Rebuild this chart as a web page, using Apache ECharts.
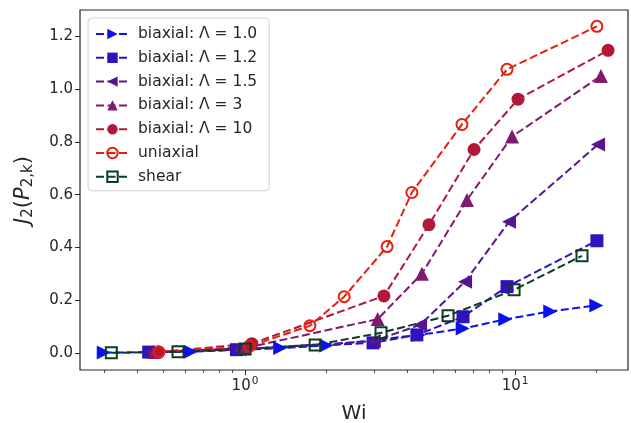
<!DOCTYPE html>
<html>
<head>
<meta charset="utf-8">
<script src="https://cdn.jsdelivr.net/npm/echarts@6/dist/echarts.min.js"></script>
<style>
  html, body { margin: 0; padding: 0; background: #fff; }
  #chart { width: 631px; height: 423px; }
</style>
</head>
<body>
<div id="chart"></div>
<script>
// series data: [Wi, J2]
const names = ["biaxial: Λ = 1.0", "biaxial: Λ = 1.2", "biaxial: Λ = 1.5", "biaxial: Λ = 3", "biaxial: Λ = 10", "uniaxial", "shear"]
const lam10 = [[0.3, 0.001], [0.63, 0.004], [1.35, 0.018], [2.0, 0.028], [4.4, 0.068], [6.4, 0.092], [9.2, 0.127], [13.5, 0.157], [20, 0.18]]
const lam12 = [[0.44, 0.003], [0.93, 0.012], [2.98, 0.038], [4.33, 0.068], [6.42, 0.137], [9.34, 0.251], [20.1, 0.425]]
const lam15 = [[0.45, 0.003], [0.95, 0.013], [3.0, 0.045], [4.45, 0.106], [6.53, 0.27], [9.5, 0.497], [20.3, 0.79]]
const lam3 = [[0.46, 0.003], [1.0, 0.018], [3.1, 0.128], [4.52, 0.30], [6.64, 0.58], [9.75, 0.82], [20.8, 1.05]]
const lam100 = [[0.48, 0.003], [1.06, 0.035], [3.27, 0.216], [4.8, 0.486], [7.05, 0.771], [10.26, 0.962], [22.1, 1.147]]
const uniaxial = [[0.48, 0.003], [1.04, 0.025], [1.74, 0.103], [2.33, 0.213], [3.36, 0.403], [4.15, 0.608], [6.36, 0.866], [9.34, 1.075], [20.1, 1.238]]
const shear = [[0.32, 0.0], [0.565, 0.004], [1.0, 0.015], [1.82, 0.03], [3.19, 0.076], [5.65, 0.141], [9.92, 0.239], [17.7, 0.368]]

const yTicks = [0, 0.2, 0.4, 0.6, 0.8, 1.0, 1.2]
const xMajor = [1, 10]
const xMinor = [0.3, 0.4, 0.5, 0.6, 0.7, 0.8, 0.9, 2, 3, 4, 5, 6, 7, 8, 9, 20]

const FONT = "DejaVu Sans"
const INK = "#262626"
const dash = [8, 3.5]

function lineSeries(name, data, color, symbol, size, rotate, open) {
    return {
        name: name,
        type: "line",
        data: data,
        symbol: symbol,
        symbolSize: size,
        symbolRotate: rotate,
        lineStyle: { color: color, width: 2, type: dash },
        itemStyle: open
            ? { color: "rgba(255,255,255,0)", borderColor: color, borderWidth: 2 }
            : { color: color, borderWidth: 0 },
        emphasis: { disabled: true }
    }
}

const chart = echarts.init(document.getElementById("chart"), null, { renderer: "canvas" })

const option = {
    animation: false,
    textStyle: { fontFamily: FONT },
    grid: {
        left: 80, right: 3, top: 10, bottom: 53,
        show: true, borderColor: INK, borderWidth: 1.2,
        containLabel: false,
        outerBoundsMode: "none"
    },
    legend: {
        left: 88, top: 18,
        orient: "vertical",
        padding: [8, 12, 6, 7],
        itemGap: 7.8,
        itemWidth: 33,
        itemHeight: 13,
        backgroundColor: "rgba(255,255,255,0.85)",
        borderColor: "#d0d0d0",
        borderWidth: 1,
        borderRadius: 4,
        textStyle: { fontFamily: FONT, fontSize: 15.5, color: INK, padding: [0, 0, 0, 4] },
        data: names
    },
    xAxis: [{
        type: "log",
        logBase: 10,
        min: 0.245,
        max: 26.2,
        name: "Wi",
        nameLocation: "middle",
        nameGap: 34,
        nameTextStyle: { fontFamily: FONT, fontSize: 20, color: INK },
        axisLine: { show: false, onZero: false },
        splitLine: { show: false },
        axisTick: { show: true, length: 5, lineStyle: { color: INK, width: 1 }, customValues: xMajor },
        axisLabel: {
            customValues: xMajor,
            margin: 6,
            formatter: v => "{b|10}{s|" + Math.round(Math.log10(v)) + "}",
            rich: {
                b: { fontFamily: FONT, fontSize: 15, color: INK },
                s: { fontFamily: FONT, fontSize: 10.5, color: INK, padding: [0, 0, 9, 1] }
            }
        }
    }, {
        type: "log",
        logBase: 10,
        min: 0.245,
        max: 26.2,
        position: "bottom",
        axisLine: { show: false, onZero: false },
        splitLine: { show: false },
        axisLabel: { show: false },
        axisTick: { show: true, length: 3, lineStyle: { color: INK, width: 0.8 }, customValues: xMinor }
    }],
    yAxis: {
        type: "value",
        min: -0.065,
        max: 1.30,
        name: "{i|J}{s|2}{n|(}{i|P}{s|2,k}{n|)}",
        nameLocation: "middle",
        nameRotate: 90,
        nameGap: 44,
        nameTextStyle: {
            rich: {
                i: { fontFamily: FONT, fontSize: 21, fontStyle: "italic", color: INK },
                n: { fontFamily: FONT, fontSize: 21, color: INK },
                s: { fontFamily: FONT, fontSize: 15, color: INK, padding: [9, 0, 0, 0] }
            }
        },
        axisLine: { show: false, onZero: false },
        splitLine: { show: false },
        axisTick: { show: true, length: 5, lineStyle: { color: INK }, customValues: yTicks },
        axisLabel: {
            customValues: yTicks,
            margin: 7,
            fontFamily: FONT, fontSize: 15, color: INK,
            formatter: v => v.toFixed(1)
        }
    },
    series: [
        lineSeries(names[0], lam10, "#0b12ee", "triangle", 14, -90, false),
        lineSeries(names[1], lam12, "#2f13bd", "rect", 13, 0, false),
        lineSeries(names[2], lam15, "#561690", "triangle", 14, 90, false),
        lineSeries(names[3], lam3, "#7f1a6e", "triangle", 14, 0, false),
        lineSeries(names[4], lam100, "#b3173a", "circle", 13, 0, false),
        lineSeries(names[5], uniaxial, "#e5200e", "circle", 11, 0, true),
        lineSeries(names[6], shear, "#0c3c22", "rect", 11, 0, true)
    ]
}

chart.setOption(option)
</script>
</body>
</html>
